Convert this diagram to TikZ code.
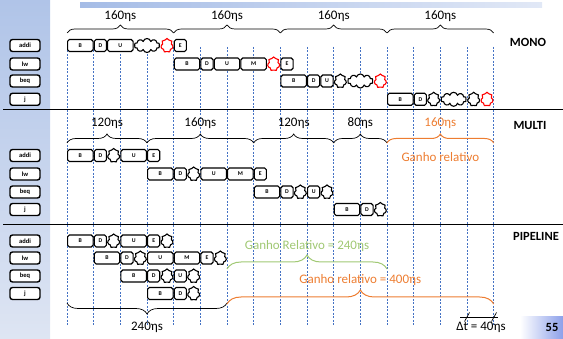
\documentclass[tikz,border=0pt]{standalone}
\usepackage{fontspec}
\setmainfont{Carlito}
\usetikzlibrary{decorations.pathreplacing,shapes.symbols}

\definecolor{gridblue}{RGB}{68,114,196}
\definecolor{orng}{RGB}{237,125,49}
\definecolor{grn}{RGB}{160,200,115}
\definecolor{stripA}{RGB}{176,196,232}
\definecolor{stripB}{RGB}{222,229,243}
\definecolor{barA}{RGB}{165,188,230}
\definecolor{barB}{RGB}{225,232,246}

\tikzset{
 stagebox/.style={draw, line width=1.1pt, rounded corners=1.8pt, fill=white, minimum height=12pt, inner sep=0pt, font=\fontsize{5.8}{6}\selectfont\bfseries},
 puff/.style={cloud, cloud puffs=#1, cloud ignores aspect, draw, line width=1.1pt, fill=white, minimum height=14pt, inner sep=0pt},
 rowlabel/.style={draw, line width=1.4pt, rounded corners=2.5pt, fill=white, minimum width=30pt, minimum height=12pt, inner sep=0pt, font=\fontsize{6.5}{7}\selectfont\bfseries},
 brc/.style={decorate, decoration={brace, amplitude=#1}, line width=0.7pt},
 timelbl/.style={font=\fontsize{13}{15}\selectfont, inner sep=0pt},
 seclbl/.style={font=\fontsize{12.5}{14}\selectfont\bfseries, inner sep=0pt},
 gridline/.style={gridblue, dash pattern=on 2pt off 1.5pt, line width=0.6pt},
 sepline/.style={black, line width=1pt},
}

\newcommand\stg[5]{%
 \pgfmathsetmacro\stgxa{67+#2*26.6667}%
 \pgfmathsetmacro\stgxb{67+#3*26.6667}%
 \pgfmathsetmacro\stgw{\stgxb-\stgxa-1.2}%
 \pgfmathsetmacro\stgxc{(\stgxa+\stgxb)/2}%
 \node[stagebox, minimum width=\stgw pt] (#1) at (\stgxc,#4) {#5};}
\newcommand\cld[6]{%
 \pgfmathsetmacro\stgxa{67+#2*26.6667}%
 \pgfmathsetmacro\stgxb{67+#3*26.6667}%
 \pgfmathsetmacro\stgw{\stgxb-\stgxa-1.2}%
 \pgfmathsetmacro\stgxc{(\stgxa+\stgxb)/2}%
 \node[puff=#6, draw=#5, minimum width=\stgw pt] (#1) at (\stgxc,#4) {};}

\begin{document}
\begin{tikzpicture}[x=1pt,y=-1pt]
\useasboundingbox (0,0) rectangle (563,339);
% background decorations
\shade[top color=stripA, bottom color=stripB] (0,0) rectangle (50,339);
\shade[left color=barA, right color=barB] (80,3) rectangle (542,8);
\shade[left color=white, right color=barA!85!blue] (520,317) rectangle (563,339);
\node[font=\fontsize{12.5}{14}\selectfont\bfseries] (pg) at (552,327.5) {55};

% separators
\coordinate (s1a) at (3,110); \coordinate (s1b) at (563,110);
\coordinate (s2a) at (3,225); \coordinate (s2b) at (563,225);
\draw[sepline] (s1a) -- (s1b);
\draw[sepline] (s2a) -- (s2b);

% grid lines
\foreach \k in {0,...,16} {
  \coordinate (gt\k) at ({67+\k*26.6667},47);
  \coordinate (gb\k) at ({67+\k*26.6667},325);
  \draw[gridline] (gt\k) -- (gb\k);
}

% row labels
\foreach \sec/\ya/\yb/\yc/\yd in {m/45.5/64/81/99.3, u/155.5/174/192/209.5, p/241/258/276/293.5} {
  \node[rowlabel] (\sec la) at (25,\ya) {addi};
  \node[rowlabel] (\sec lb) at (25,\yb) {lw};
  \node[rowlabel] (\sec lc) at (25,\yc) {beq};
  \node[rowlabel] (\sec ld) at (25,\yd) {j};
}

% section labels
\node[seclbl] (mono) at (528,42) {MONO};
\node[seclbl] (multi) at (530,125) {MULTI};
\node[seclbl] (pipe) at (536,236.5) {PIPELINE};

% ---------- MONO ----------
\foreach \k/\j in {0/4,4/8,8/12,12/16} {
  \coordinate (mbl\k) at ({67+\k*26.6667},33);
  \coordinate (mbr\k) at ({67+\j*26.6667},33);
  \draw[brc=8pt] (mbl\k) -- (mbr\k);
  \node[timelbl] (mt\k) at ({67+(\k+2)*26.6667},16.5) {160ηs};
}
\stg{mA1}{0}{1}{45.5}{B}\stg{mA2}{1}{1.5}{45.5}{D}\stg{mA3}{1.5}{2.5}{45.5}{U}
\cld{mA4}{2.5}{3.5}{45.5}{black}{10}\cld{mA5}{3.5}{4}{45.5}{red}{7}\stg{mA6}{4}{4.5}{45.5}{E}
\stg{mB1}{4}{5}{64}{B}\stg{mB2}{5}{5.5}{64}{D}\stg{mB3}{5.5}{6.5}{64}{U}\stg{mB4}{6.5}{7.5}{64}{M}
\cld{mB5}{7.5}{8}{64}{red}{7}\stg{mB6}{8}{8.5}{64}{E}
\stg{mC1}{8}{9}{81}{B}\stg{mC2}{9}{9.5}{81}{D}\stg{mC3}{9.5}{10}{81}{U}
\cld{mC4}{10}{10.5}{81}{black}{7}\cld{mC5}{10.5}{11.5}{81}{black}{10}\cld{mC6}{11.5}{12}{81}{red}{7}
\stg{mD1}{12}{13}{99.3}{B}\stg{mD2}{13}{13.5}{99.3}{D}
\cld{mD3}{13.5}{14}{99.3}{black}{7}\cld{mD4}{14}{15}{99.3}{black}{10}\cld{mD5}{15}{15.5}{99.3}{black}{7}\cld{mD6}{15.5}{16}{99.3}{red}{7}

% ---------- MULTI ----------
\foreach \k/\j/\t in {0/3/120ηs,3/7/160ηs,7/10/120ηs,10/12/80ηs} {
  \coordinate (ubl\k) at ({67+\k*26.6667},143);
  \coordinate (ubr\k) at ({67+\j*26.6667},143);
  \draw[brc=9pt] (ubl\k) -- (ubr\k);
  \node[timelbl] (ut\k) at ({67+(\k+\j)/2*26.6667},123) {\t};
}
\coordinate (ubl12) at ({67+12*26.6667},143);
\coordinate (ubr12) at ({67+16*26.6667},143);
\draw[brc=9pt, orng, line width=1pt] (ubl12) -- (ubr12);
\node[timelbl, text=orng] (ut12) at ({67+14*26.6667},123) {160ηs};
\node[timelbl, text=orng] (ugain) at ({67+14*26.6667},157) {Ganho relativo};

\stg{uA1}{0}{1}{155.5}{B}\stg{uA2}{1}{1.5}{155.5}{D}\cld{uA3}{1.5}{2}{155.5}{black}{7}
\stg{uA4}{2}{3}{155.5}{U}\stg{uA5}{3}{3.5}{155.5}{E}
\stg{uB1}{3}{4}{174}{B}\stg{uB2}{4}{4.5}{174}{D}\cld{uB3}{4.5}{5}{174}{black}{7}
\stg{uB4}{5}{6}{174}{U}\stg{uB5}{6}{7}{174}{M}\stg{uB6}{7}{7.5}{174}{E}
\stg{uC1}{7}{8}{192}{B}\stg{uC2}{8}{8.5}{192}{D}\cld{uC3}{8.5}{9}{192}{black}{7}
\stg{uC4}{9}{9.5}{192}{U}\cld{uC5}{9.5}{10}{192}{black}{7}
\stg{uD1}{10}{11}{209.5}{B}\stg{uD2}{11}{11.5}{209.5}{D}\cld{uD3}{11.5}{12}{209.5}{black}{7}

% ---------- PIPELINE ----------
\stg{pA1}{0}{1}{241}{B}\stg{pA2}{1}{1.5}{241}{D}\cld{pA3}{1.5}{2}{241}{black}{7}
\stg{pA4}{2}{3}{241}{U}\stg{pA5}{3}{3.5}{241}{E}\cld{pA6}{3.5}{4}{241}{black}{7}
\stg{pB1}{1}{2}{258}{B}\stg{pB2}{2}{2.5}{258}{D}\cld{pB3}{2.5}{3}{258}{black}{7}
\stg{pB4}{3}{4}{258}{U}\stg{pB5}{4}{5}{258}{M}\stg{pB6}{5}{5.5}{258}{E}\cld{pB7}{5.5}{6}{258}{black}{7}
\stg{pC1}{2}{3}{276}{B}\stg{pC2}{3}{3.5}{276}{D}\cld{pC3}{3.5}{4}{276}{black}{7}
\stg{pC4}{4}{4.5}{276}{U}\cld{pC5}{4.5}{5}{276}{black}{7}
\stg{pD1}{3}{4}{293.5}{B}\stg{pD2}{4}{4.5}{293.5}{D}\cld{pD3}{4.5}{5}{293.5}{black}{7}

\coordinate (pbl) at ({67+0*26.6667},303);
\coordinate (pbr) at ({67+6*26.6667},303);
\draw[brc=11pt] (pbr) -- (pbl);
\node[timelbl] (pt) at ({67+3*26.6667},327) {240ηs};

\coordinate (gbl) at ({67+6*26.6667},269);
\coordinate (gbr) at ({67+12*26.6667},269);
\draw[brc=14pt, grn, line width=1pt] (gbl) -- (gbr);
\node[timelbl, text=grn] (gt) at ({67+9*26.6667},246) {Ganho Relativo = 240ηs};

\coordinate (obl) at ({67+6*26.6667},304);
\coordinate (obr) at ({67+16*26.6667},304);
\draw[brc=14pt, orng, line width=1pt] (obl) -- (obr);
\node[timelbl, text=orng] (ot) at ({67+11*26.6667},280) {Ganho relativo = 400ηs};

% delta t
\coordinate (dl) at (460,317); \coordinate (dr) at (498,317);
\draw[line width=0.7pt] (dl) -- (dr);
\coordinate (t1a) at (464.5,321.5); \coordinate (t1b) at (469.5,312.5);
\coordinate (t2a) at (491.5,321.5); \coordinate (t2b) at (496.5,312.5);
\draw[line width=0.7pt] (t1a) -- (t1b);
\draw[line width=0.7pt] (t2a) -- (t2b);
\node[timelbl] (dt) at (481,327.5) {Δt = 40ηs};
\end{tikzpicture}
\end{document}
